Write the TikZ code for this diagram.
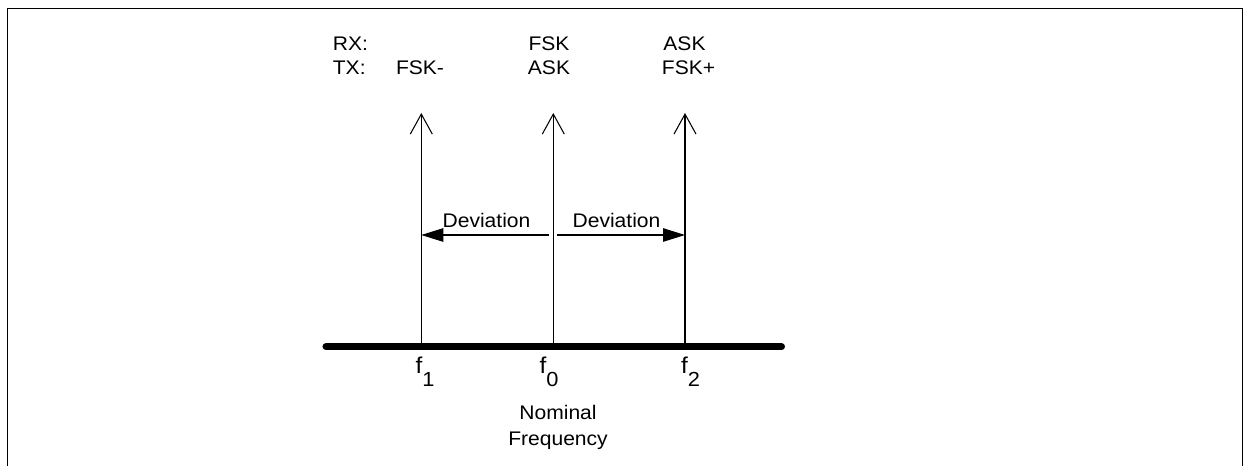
\documentclass[tikz,border=0pt]{standalone}
\usepackage{fontspec}
\setmainfont{Liberation Sans}[FakeStretch=1.07]
\usetikzlibrary{arrows.meta,positioning}
\newcommand{\fsub}[1]{f\raisebox{-0.26cm}{\fontsize{11.6}{13}\selectfont #1}}

\begin{document}
\begin{tikzpicture}[
        frame/.style={line width=0.85pt},
        axis/.style={line width=4pt, line cap=round},
        carrier/.style={-{Straight Barb[length=0.4cm, width=0.44cm, line width=0.6pt]}, line width=0.6pt},
        devarrow/.style={-{Triangle[length=0.44cm, width=0.27cm]}, line width=0.6pt},
        lbl/.style={font=\fontsize{11.2}{14.7}\selectfont, inner sep=0pt, anchor=base},
        freqlbl/.style={font=\fontsize{13}{15}\selectfont, inner sep=0pt, anchor=base}
      ]
      \useasboundingbox (0,0) rectangle (24.86,9.32);
      \draw[frame] (0.146,0) |- (24.845,9.154) -- (24.845,0);

      \coordinate (axl) at (6.52,2.386);
      \coordinate (axr) at (15.63,2.386);
      \coordinate (f1) at (8.426,2.386);
      \coordinate (f0) at (11.066,2.386);
      \coordinate (f2) at (13.70,2.386);
      \coordinate (t1) at (8.426,7.06);
      \coordinate (t0) at (11.066,7.06);
      \coordinate (t2) at (13.70,7.06);
      \draw[carrier] (f1) -- (t1);
      \draw[carrier] (f0) -- (t0);
      \draw[carrier] (f2) -- (t2);
      \draw[axis] (axl) -- (axr);

      \coordinate (devl) at (10.98,4.62);
      \coordinate (devr) at (11.14,4.62);
      \draw[devarrow] (devl) -- (f1 |- devl);
      \draw[devarrow] (devr) -- (f2 |- devr);
      \node[lbl] (devltxt) at (9.73,4.76) {Deviation};
      \node[lbl] (devrtxt) at (12.33,4.76) {Deviation};

      \node[lbl, anchor=base west] (rx) at (6.65,8.31) {RX:};
      \node[lbl, anchor=base west] (tx) at (6.65,7.82) {TX:};
      \node[lbl] (fskm) at (8.40,7.82) {FSK-};
      \node[lbl] (rxfsk) at (10.98,8.31) {FSK};
      \node[lbl] (txask) at (10.98,7.82) {ASK};
      \node[lbl] (rxask) at (13.69,8.31) {ASK};
      \node[lbl] (fskp) at (13.77,7.82) {FSK+};

      \node[freqlbl] (lf1) at (8.50,1.86) {\fsub{1}};
      \node[freqlbl] (lf0) at (10.98,1.86) {\fsub{0}};
      \node[freqlbl] (lf2) at (13.81,1.86) {\fsub{2}};
      \node[lbl, anchor=north, align=center] (nominal) at (11.16,1.228) {Nominal\\Frequency};
    \end{tikzpicture}
\end{document}
